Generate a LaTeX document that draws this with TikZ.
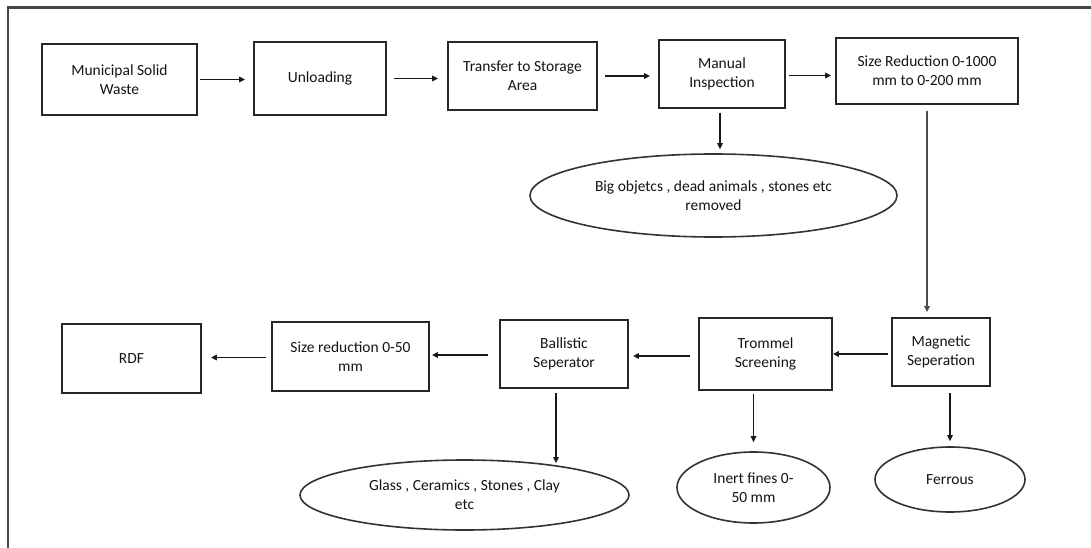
\documentclass[tikz,border=0pt]{standalone}
\usepackage{fontspec}
\setmainfont{Carlito}
\usetikzlibrary{shapes.geometric,arrows.meta}
\begin{document}
\begin{tikzpicture}[x=1pt,y=-1pt,
  txt/.style={font=\fontsize{15.5}{19}\selectfont,text=black!92},
  box/.style={txt,draw=black!85,line width=1.8pt,rectangle,align=center,inner sep=0pt},
  oval/.style={txt,draw=black!80,line width=1.6pt,ellipse,align=center,inner sep=0pt},
  arr/.style={draw=black!90,line width=1.8pt,-{Triangle[length=6pt,width=5.5pt]}},
  thickarr/.style={arr,line width=2.6pt},
  greyarr/.style={arr,draw=black!70,line width=2pt},
  frame/.style={draw=black!72,line width=2.6pt}]
\useasboundingbox (0,0) rectangle (1091,548);
\fill[white] (0,0) rectangle (1091,548);
\draw[frame] (8,548) -- (8,7.5) -- (1091,7.5);

% top row
\node[box,minimum width=155pt,minimum height=71pt] (msw) at (119.5,79.5) {Municipal Solid\\Waste};
\node[box,minimum width=132pt,minimum height=73pt] (unl) at (320,78.5) {Unloading};
\node[box,minimum width=149pt,minimum height=68pt] (tra) at (522.5,76) {Transfer to Storage\\Area};
\node[box,minimum width=126pt,minimum height=68pt] (man) at (722,74) {Manual\\Inspection};
\node[box,minimum width=182pt,minimum height=66pt] (sr) at (927,71) {Size Reduction 0-1000\\mm to 0-200 mm};
\node[oval,minimum width=367pt,minimum height=83pt] (big) at (713.5,195.5) {Big objetcs , dead animals , stones etc\\removed};

% bottom row
\node[box,minimum width=98pt,minimum height=68pt] (mag) at (941,352) {Magnetic\\Seperation};
\node[box,minimum width=133pt,minimum height=72pt] (trom) at (765.5,354) {Trommel\\Screening};
\node[box,minimum width=128pt,minimum height=68pt] (ball) at (564,354) {Ballistic\\Seperator};
\node[box,minimum width=157pt,minimum height=69pt] (sfifty) at (350.5,356.5) {Size reduction 0-50\\mm};
\node[box,minimum width=139pt,minimum height=69pt] (rdf) at (131.5,358.5) {RDF};

\node[oval,minimum width=329pt,minimum height=70pt] (glass) at (464.5,495) {Glass , Ceramics , Stones , Clay\\etc};
\node[oval,minimum width=153pt,minimum height=71pt] (inert) at (753.5,487.5) {Inert fines 0-\\50 mm};
\node[oval,minimum width=150pt,minimum height=65pt] (fer) at (950,479.5) {Ferrous};

% connectors top row
\draw[arr,shorten <=2pt,shorten >=8pt] (msw.east) -- (msw.east -| unl.west);
\draw[arr,shorten <=7pt,shorten >=9pt] (unl.east) -- (unl.east -| tra.west);
\draw[arr,shorten <=7pt,shorten >=8pt] (tra.east) -- (tra.east -| man.west);
\draw[arr,shorten <=3pt,shorten >=4pt] ([yshift=-1.5pt]man.east) -- ([yshift=-1.5pt]man.east -| sr.west);
\draw[arr,shorten <=4pt,shorten >=4pt] ([xshift=-2pt]man.south) -- ([xshift=-2pt]man.south |- big.north);
\draw[greyarr,shorten <=6pt,shorten >=5pt] (sr.south) -- (sr.south |- mag.north);

% connectors bottom row
\draw[arr,shorten <=3pt,shorten >=0pt] ([yshift=-2pt]mag.west) -- ([yshift=-2pt]mag.west -| trom.east);
\draw[thickarr,shorten <=8pt,shorten >=4pt] ([yshift=-2pt]trom.west) -- ([yshift=-2pt]trom.west -| ball.east);
\draw[arr,shorten <=11pt,shorten >=2pt] ([yshift=-1pt]ball.west) -- ([yshift=-1pt]ball.west -| sfifty.east);
\draw[arr,shorten <=5pt,shorten >=9pt] ([yshift=-1pt]sfifty.west) -- ([yshift=-1pt]sfifty.west -| rdf.east);

\draw[arr,shorten <=4pt,shorten >=-4pt] ([xshift=-8pt]ball.south) -- ([xshift=-8pt]ball.south |- glass.north);
\draw[arr,shorten <=3pt,shorten >=9pt] (trom.south -| inert.north) -- (inert.north);
\draw[arr,shorten <=6pt,shorten >=5pt] (mag.south -| fer.north) -- (fer.north);
\end{tikzpicture}
\end{document}
